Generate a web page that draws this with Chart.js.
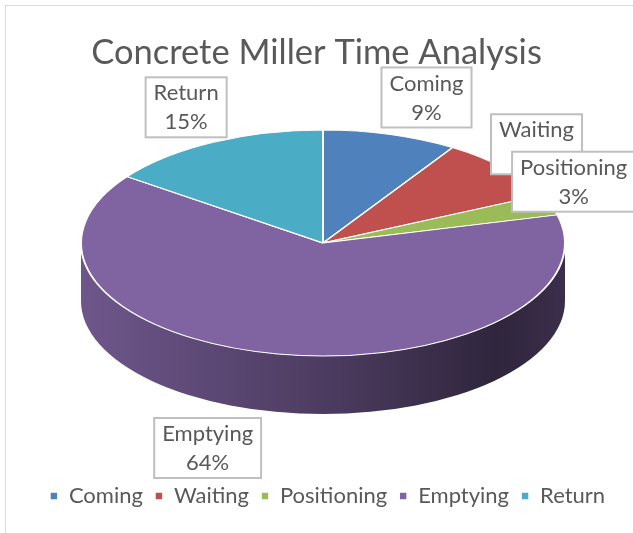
<!DOCTYPE html>
<html>
<head>
<meta charset="utf-8">
<title>Concrete Miller Time Analysis</title>
<script src="https://cdn.jsdelivr.net/npm/chart.js@4.4.0/dist/chart.umd.min.js"></script>
<style>
  html, body { margin: 0; padding: 0; background: #fff; }
  canvas { display: block; }
</style>
</head>
<body>
<canvas id="millerPie" width="633" height="533"></canvas>
<script>
const labels = ["Coming", "Waiting", "Positioning", "Emptying", "Return"];
const shares = [9, 9, 3, 64, 15];
const colors = ["#4f81bd", "#c0504d", "#9bbb59", "#8064a2", "#4bacc6"];

// where the flattened (fake 3d) pie sits on the canvas
const tilt = { cx: 323, cy: 243, rx: 242, ry: 113, depth: 58 };
// label boxes are nudged away from the rim point of their slice
const labelNudge = [[36, -37], [32, -24], [23, -23], [-70, 94], [-27, -35]];
// legend sits a little right of centre in the original
const legendShift = 11;

const textColor = "#595959";
const fontFamily = "Lato, 'Open Sans', sans-serif";

function shade(hex, f) {
  const n = parseInt(hex.slice(1), 16);
  const r = Math.round(((n >> 16) & 255) * f);
  const g = Math.round(((n >> 8) & 255) * f);
  const b = Math.round((n & 255) * f);
  return `rgb(${r},${g},${b})`;
}

const pie3d = {
  id: "pie3d",
  afterLayout(chart) {
    chart.legend.left += legendShift;
    chart.legend.right += legendShift;
  },
  beforeDraw(chart) {
    const ctx = chart.ctx;
    ctx.save();
    ctx.fillStyle = "#fff";
    ctx.fillRect(0, 0, chart.width, chart.height);
    // outer chart frame, only top and left edges fall inside the picture
    ctx.strokeStyle = "#d9d9d9";
    ctx.lineWidth = 1;
    ctx.beginPath();
    ctx.moveTo(5.5, chart.height);
    ctx.lineTo(5.5, 5.5);
    ctx.lineTo(chart.width, 5.5);
    ctx.stroke();
    ctx.restore();
  },
  beforeDatasetsDraw(chart) {
    const ctx = chart.ctx;
    const arcs = chart.getDatasetMeta(0).data;
    const { cx, cy, rx, ry, depth } = tilt;

    // side wall, only the front half shows
    arcs.forEach((arc, i) => {
      const a1 = Math.max(arc.startAngle, 0);
      const a2 = Math.min(arc.endAngle, Math.PI);
      if (a2 <= a1) return;
      const grad = ctx.createLinearGradient(cx - rx, 0, cx + rx, 0);
      grad.addColorStop(0, shade(colors[i], 0.86));
      grad.addColorStop(0.5, shade(colors[i], 0.6));
      grad.addColorStop(0.86, shade(colors[i], 0.37));
      grad.addColorStop(1, shade(colors[i], 0.46));
      ctx.save();
      ctx.beginPath();
      ctx.ellipse(cx, cy, rx, ry, 0, a1, a2);
      ctx.ellipse(cx, cy + depth, rx, ry, 0, a2, a1, true);
      ctx.closePath();
      ctx.fillStyle = grad;
      ctx.fill();
      ctx.restore();
    });

    // squash the pie's top face into an ellipse
    const a = arcs[0];
    const R = a.outerRadius;
    ctx.save();
    ctx.translate(cx, cy);
    ctx.scale(rx / R, ry / R);
    ctx.translate(-a.x, -a.y);
  },
  afterDatasetsDraw(chart) {
    const ctx = chart.ctx;
    ctx.restore();

    const arcs = chart.getDatasetMeta(0).data;
    const { cx, cy, rx, ry } = tilt;
    const total = shares.reduce((s, v) => s + v, 0);

    ctx.save();
    ctx.font = `22px ${fontFamily}`;
    ctx.textAlign = "center";
    ctx.textBaseline = "middle";
    arcs.forEach((arc, i) => {
      const mid = (arc.startAngle + arc.endAngle) / 2;
      const bx = cx + rx * Math.cos(mid) + labelNudge[i][0];
      const by = cy + ry * Math.sin(mid) + labelNudge[i][1];
      const lines = [labels[i], Math.round(shares[i] / total * 100) + "%"];
      const w = Math.max(...lines.map(t => ctx.measureText(t).width)) + 16;
      const h = 60;
      ctx.fillStyle = "#fff";
      ctx.fillRect(bx - w / 2, by - h / 2, w, h);
      ctx.strokeStyle = "#bfbfbf";
      ctx.lineWidth = 2;
      ctx.strokeRect(bx - w / 2, by - h / 2, w, h);
      ctx.fillStyle = textColor;
      ctx.fillText(lines[0], bx, by - 14);
      ctx.fillText(lines[1], bx, by + 15);
    });
    ctx.restore();
  }
};

const ctx = document.getElementById("millerPie").getContext("2d");
new Chart(ctx, {
  type: "pie",
  data: {
    labels,
    datasets: [{
      data: shares,
      backgroundColor: colors,
      borderColor: "#ffffff",
      borderWidth: 1.6
    }]
  },
  options: {
    responsive: false,
    animation: false,
    layout: { padding: { bottom: 16 } },
    plugins: {
      title: {
        display: true,
        text: "Concrete Miller Time Analysis",
        color: textColor,
        font: { family: fontFamily, size: 34.5, weight: "normal" },
        padding: { top: 32, bottom: 10 }
      },
      legend: {
        position: "bottom",
        labels: {
          color: textColor,
          font: { family: fontFamily, size: 22 },
          boxWidth: 8,
          boxHeight: 8,
          padding: 12
        }
      },
      tooltip: { enabled: false }
    }
  },
  plugins: [pie3d]
});
</script>
</body>
</html>
